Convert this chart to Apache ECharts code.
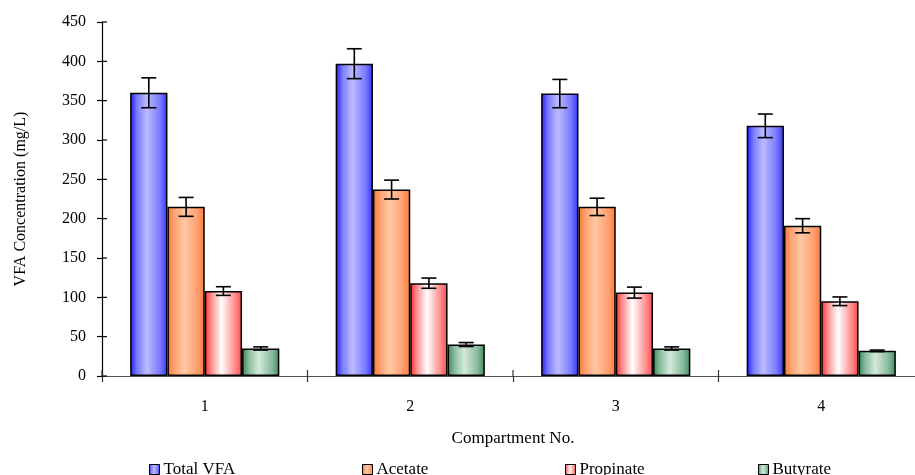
<!DOCTYPE html>
<html>
<head>
<meta charset="utf-8">
<script src="https://cdn.jsdelivr.net/npm/echarts@6/dist/echarts.min.js"></script>
<style>
  html, body { margin: 0; padding: 0; background: #fff; }
  #chart { width: 915px; height: 475px; }
</style>
</head>
<body>
<div id="chart"></div>
<script>
// Compartments along the x axis
const compartments = ['1', '2', '3', '4'];

// Value-axis tick positions (mg/L)
const yTicks = [0, 50, 100, 150, 200, 250, 300, 350, 400, 450];

// VFA concentrations (mg/L) per compartment
const totalVFA  = [360, 397, 359, 318];
const acetate   = [215, 237, 215, 191];
const propinate = [108, 118, 106, 95];
const butyrate  = [35, 40, 35, 32];

// Standard deviations shown as error bars
const totalVFAErr  = [19, 19, 18, 15];
const acetateErr   = [12, 12, 11, 9];
const propinateErr = [5.5, 6.5, 7, 5.5];
const butyrateErr  = [2, 2.5, 2, 1];

const seriesNames = ['Total VFA', 'Acetate', 'Propinate', 'Butyrate'];
const seriesValues = [totalVFA, acetate, propinate, butyrate];
const seriesErrors = [totalVFAErr, acetateErr, propinateErr, butyrateErr];

// Horizontal shaded fills: dark edges, pale centre
function shade(edgeL, mid, light, edgeR) {
  return new echarts.graphic.LinearGradient(0, 0, 1, 0, [
    { offset: 0, color: edgeL },
    { offset: 0.18, color: mid },
    { offset: 0.45, color: light },
    { offset: 0.8, color: mid },
    { offset: 1, color: edgeR }
  ]);
}
const fills = [
  shade('#1a1aff', '#7a7aff', '#bcbcff', '#3434ff'),
  shade('#ff7330', '#ffa070', '#ffc8a4', '#ff7a3a'),
  shade('#ff2a2a', '#ff9090', '#ffffff', '#ff4a4a'),
  shade('#358656', '#88bb9c', '#d4e9dc', '#3f8e60')
];

const catGap = 0.274;
const serif = '"Liberation Serif", "DejaVu Serif", serif';

const barSeries = seriesNames.map((name, i) => ({
  name: name,
  type: 'bar',
  data: seriesValues[i],
  barGap: '0%',
  barCategoryGap: (catGap * 100) + '%',
  itemStyle: { color: fills[i], borderColor: '#000', borderWidth: 1.5 },
  emphasis: { disabled: true },
  z: 2
}));

// Error bars drawn at each bar's centre
const errorSeries = seriesNames.map((name, i) => ({
  type: 'custom',
  name: name + ' error',
  z: 5,
  silent: true,
  data: seriesValues[i].map((v, k) => [k, v, seriesErrors[i][k]]),
  encode: { x: 0, y: 1 },
  renderItem: function (params, api) {
    const k = api.value(0), v = api.value(1), e = api.value(2);
    const band = api.size([1, 0])[0];
    const barW = band * (1 - catGap) / 4;
    const c = api.coord([k, v]);
    const cx = c[0] + (i - 1.5) * barW;
    const top = api.coord([k, v + e])[1];
    const bot = api.coord([k, v - e])[1];
    const cap = 15;
    const style = { stroke: '#000', lineWidth: 1.6 };
    return {
      type: 'group',
      children: [
        { type: 'line', shape: { x1: cx, y1: top, x2: cx, y2: bot }, style: style },
        { type: 'line', shape: { x1: cx - cap / 2, y1: top, x2: cx + cap / 2, y2: top }, style: style },
        { type: 'line', shape: { x1: cx - cap / 2, y1: bot, x2: cx + cap / 2, y2: bot }, style: style }
      ]
    };
  }
}));

// Inner halves of the axis ticks, so each tick crosses its axis line
const innerYTicks = {
  type: 'custom',
  name: 'y ticks',
  silent: true,
  z: 3,
  data: yTicks.map(v => [0, v]),
  encode: { x: 0, y: 1 },
  renderItem: function (params, api) {
    const x0 = params.coordSys.x;
    const y = api.coord([0, api.value(1)])[1];
    return { type: 'line', shape: { x1: x0, y1: y, x2: x0 + 5, y2: y },
             style: { stroke: '#000', lineWidth: 1.2 } };
  }
};
const innerXTicks = {
  type: 'custom',
  name: 'x ticks',
  silent: true,
  z: 3,
  data: compartments.map((c, k) => [k, 0]),
  encode: { x: 0, y: 1 },
  renderItem: function (params, api) {
    const band = api.size([1, 0])[0];
    const p = api.coord([api.value(0), 0]);
    const x = p[0] - band / 2;
    return { type: 'line', shape: { x1: x, y1: p[1], x2: x, y2: p[1] - 6 },
             style: { stroke: '#333', lineWidth: 1.2 } };
  }
};

const legendLefts = [144, 357, 560, 753];
const legends = seriesNames.map((name, i) => ({
  data: [name],
  left: legendLefts[i],
  top: 456,
  icon: 'rect',
  itemWidth: 10,
  itemHeight: 10,
  itemGap: 4,
  selectedMode: false,
  itemStyle: { borderColor: '#000', borderWidth: 1 },
  textStyle: { fontFamily: serif, fontSize: 17, color: '#000', padding: [0, 0, 0, -1] }
}));

const chart = echarts.init(document.getElementById('chart'));
chart.setOption({
  animation: false,
  backgroundColor: '#fff',
  grid: { left: 102, right: -9, top: 22, bottom: 99, outerBoundsMode: 'none', containLabel: false },
  legend: legends,
  xAxis: {
    type: 'category',
    data: compartments,
    boundaryGap: true,
    axisLine: { lineStyle: { color: '#555', width: 1.2 } },
    axisTick: { show: true, length: 6, alignWithLabel: false, lineStyle: { color: '#333', width: 1.2 } },
    axisLabel: { fontFamily: serif, fontSize: 16, color: '#000', margin: 23 },
    name: 'Compartment No.',
    nameLocation: 'middle',
    nameGap: 54,
    nameTextStyle: { fontFamily: serif, fontSize: 17, color: '#000' }
  },
  yAxis: {
    type: 'value',
    min: 0,
    max: 450,
    interval: 50,
    axisLine: { show: true, lineStyle: { color: '#000', width: 1.2 } },
    axisTick: { show: true, length: 5, lineStyle: { color: '#000', width: 1.2 } },
    axisLabel: { fontFamily: serif, fontSize: 16, color: '#000', margin: 16 },
    splitLine: { show: false },
    name: 'VFA Concentration (mg/L)',
    nameLocation: 'middle',
    nameGap: 73,
    nameRotate: 90,
    nameTextStyle: { fontFamily: serif, fontSize: 16, color: '#000' }
  },
  series: barSeries.concat(errorSeries, [innerYTicks, innerXTicks])
});
</script>
</body>
</html>
